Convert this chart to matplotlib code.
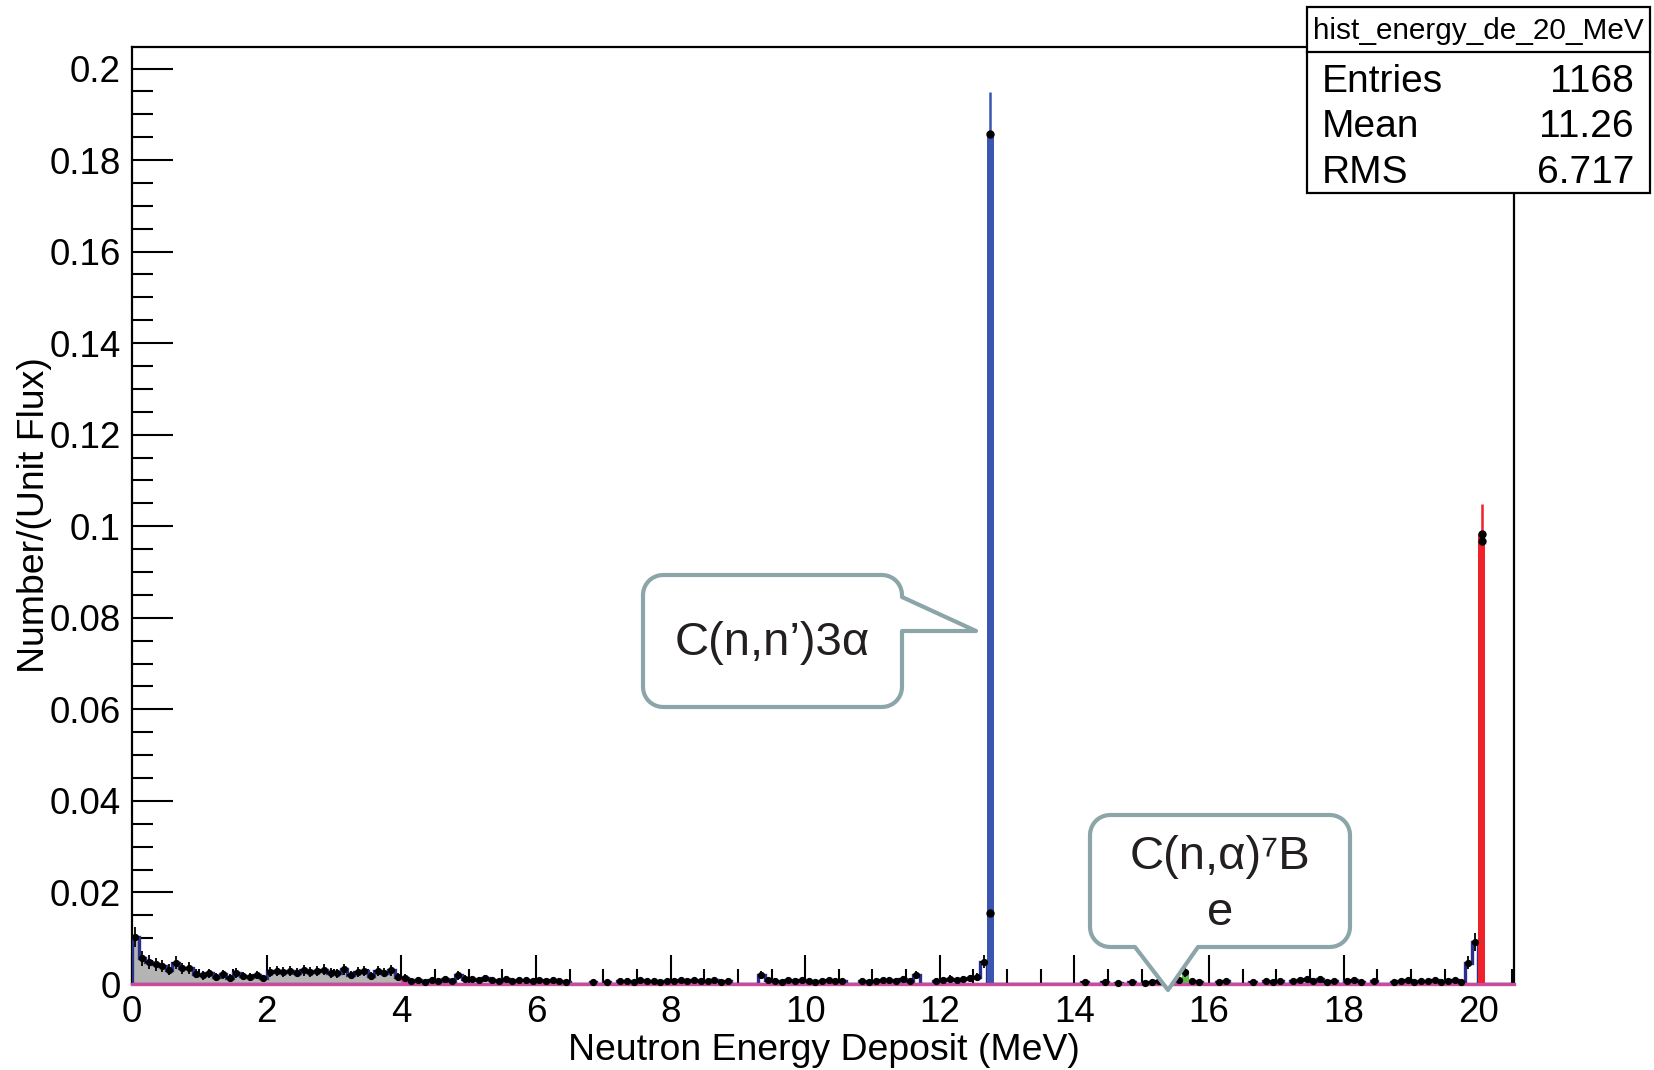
import numpy as np
import matplotlib.pyplot as plt
from matplotlib.path import Path
from matplotlib.patches import PathPatch, Rectangle
from matplotlib.lines import Line2D
from matplotlib.ticker import MultipleLocator, FuncFormatter

plt.rcParams['font.family'] = ['Liberation Sans', 'DejaVu Sans']

W, H = 1654, 1070

# histogram binning (MeV)
e_lo, bin_width, n_bins = 0.0, 0.1, 205
x_max, y_max = 20.53, 0.2047

# total deposit per 0.1 MeV bin, in units of 1e-3 per unit flux
total_mil = [
    10.3, 5.6, 4.8, 4.3, 4.0, 3.1, 4.6, 3.4, 3.5, 2.2,      # 0-1 MeV
    1.9, 2.3, 1.6, 2.1, 1.4, 2.4, 1.8, 1.5, 2.0, 1.3,
    2.6, 2.8, 2.7, 2.9, 2.5, 3.0, 2.6, 2.8, 3.1, 2.4,
    2.3, 3.2, 2.0, 2.6, 2.9, 1.8, 2.8, 2.5, 3.0, 1.5,
    1.4, 0.6, 0.9, 0.5, 0.8, 0.7, 1.0, 0.6, 1.9, 1.2,       # 4-5 MeV
    1.0, 0.9, 1.3, 0.8, 0.7, 1.1, 0.6, 0.9, 0.8, 0.7,
    0.8, 0.6, 0.9, 0.7, 0.5, 0.0, 0.0, 0.0, 0.4, 0.0,
    0.5, 0.0, 0.6, 0.7, 0.5, 0.8, 0.6, 0.7, 0.5, 0.6,
    0.7, 0.9, 0.6, 0.8, 0.7, 0.6, 0.8, 0.5, 0.7, 0.0,       # 8-9 MeV
    0.0, 0.0, 0.0, 2.0, 0.8, 0.7, 0.5, 0.9, 0.6, 0.8,
    0.7, 0.5, 0.6, 0.8, 0.7, 0.6, 0.0, 0.0, 0.7, 0.5,
    0.6, 0.8, 0.9, 0.7, 1.0, 0.6, 2.0, 0.0, 0.0, 0.7,
    0.9, 1.2, 0.8, 1.1, 1.3, 1.6, 4.9, 185.7, 0.0, 0.0,     # 12-13 MeV
    0.0, 0.0, 0.0, 0.0, 0.0, 0.0, 0.0, 0.0, 0.0, 0.0,
    0.0, 0.4, 0.0, 0.0, 0.5, 0.0, 0.3, 0.0, 0.4, 0.0,
    0.3, 0.5, 0.6, 0.4, 0.0, 0.8, 2.6, 0.6, 0.5, 0.0,
    0.0, 0.5, 0.6, 0.0, 0.0, 0.0, 0.5, 0.0, 0.7, 0.4,       # 16-17 MeV
    0.6, 0.0, 0.6, 0.9, 1.1, 0.7, 1.0, 0.5, 0.6, 0.0,
    0.7, 0.9, 0.5, 0.0, 0.6, 0.0, 0.0, 0.5, 0.6, 0.8,
    0.5, 0.7, 0.6, 0.9, 0.5, 0.6, 0.8, 0.5, 4.6, 9.2,
    98.2, 0.0, 0.0, 0.0, 0.0,                               # 20-20.5 MeV
]

# separate reaction channels (bin centre MeV, 1e-3 units)
c3a_e, c3a_mil = [12.75], [185.7]       # C(n,n')3alpha line
alpha_e, alpha_mil = [15.65], [2.6]     # C(n,alpha)7Be
elastic_e, elastic_mil = [20.05], [98.2]
inel_e, inel_mil = [4.05], [1.3]
# second histogram overlaid at the two lines
overlay_e, overlay_mil = [12.75, 20.05], [15.5, 96.7]

entry_weight = 4.45e-4  # weight per MC entry, for poisson errors
low_band_bins = 40      # gray (recoil) fill below 4 MeV

stats_rows = [("Entries", "1168"), ("Mean", "11.26"), ("RMS", "6.717")]
hist_name = "hist_energy_de_20_MeV"

NAVY = '#2b2f8c'
PEAK_BLUE = '#3b56b0'
RED = '#ee2228'
GREEN = '#5cba47'
PINK = '#cc4a9e'
GRAY = '#b4b4b4'
CALLOUT = '#8ca5a9'

edges = e_lo + bin_width * np.arange(n_bins + 1)
centers = 0.5 * (edges[:-1] + edges[1:])
total = np.array(total_mil) * 1e-3


def channel(e_list, v_list):
    out = np.zeros(n_bins)
    for e, v in zip(e_list, v_list):
        out[int((e - e_lo) / bin_width)] = v * 1e-3
    return out


c3a = channel(c3a_e, c3a_mil)
alpha = channel(alpha_e, alpha_mil)
elastic = channel(elastic_e, elastic_mil)
inel = channel(inel_e, inel_mil)
blue_steps = total - c3a - alpha - elastic

fig = plt.figure(figsize=(W / 100, H / 100), dpi=100)
ax = fig.add_axes([132 / W, 1 - 984 / H, (1514 - 132) / W, (984 - 47) / H])

ax.stairs(total[:low_band_bins], edges[:low_band_bins + 1], fill=True,
          color=GRAY, zorder=2)
ax.stairs(blue_steps, edges, color=NAVY, lw=2.4, zorder=3)
ax.stairs(c3a, edges, fill=True, color=PEAK_BLUE, zorder=3)
ax.stairs(elastic, edges, fill=True, color=RED, zorder=3)
ax.stairs(alpha, edges, fill=True, color=GREEN, zorder=3)
ax.stairs(inel, edges, fill=True, color=PINK, zorder=3)

# zero line of the empty channel
ax.axhline(0, color=PINK, lw=2.4, zorder=4, clip_on=False)

# error bars on the peaks in channel colours
for ch, col in ((c3a, PEAK_BLUE), (elastic, RED)):
    m = ch > 0
    ax.errorbar(centers[m], ch[m], yerr=np.sqrt(ch[m] * entry_weight),
                fmt='none', ecolor=col, elinewidth=1.8, capsize=0, zorder=5)

small = (total > 0) & (c3a == 0) & (elastic == 0)
ax.errorbar(centers[small], total[small],
            yerr=np.sqrt(total[small] * entry_weight), xerr=bin_width / 2,
            fmt='o', color='black', ms=4.2, elinewidth=1.3, capsize=0,
            zorder=6, clip_on=False)
big = (c3a > 0) | (elastic > 0)
ax.plot(centers[big], total[big], 'o', color='black', ms=5, zorder=6)
ax.plot(overlay_e, np.array(overlay_mil) * 1e-3, 'o', color='black', ms=5,
        zorder=6)

ax.set_xlim(0, x_max)
ax.set_ylim(0, y_max)
ax.xaxis.set_major_locator(MultipleLocator(2))
ax.xaxis.set_minor_locator(MultipleLocator(0.5))
ax.yaxis.set_major_locator(MultipleLocator(0.02))
ax.yaxis.set_minor_locator(MultipleLocator(0.005))
fmt = FuncFormatter(lambda v, p: f'{v:g}')
ax.xaxis.set_major_formatter(fmt)
ax.yaxis.set_major_formatter(fmt)
ax.tick_params(which='both', direction='in', width=1.5, labelsize=26.5,
               pad=8, top=False, right=False)
ax.tick_params(axis='y', which='major', length=29.5)
ax.tick_params(axis='y', which='minor', length=15)
ax.tick_params(axis='x', which='major', length=21)
ax.tick_params(axis='x', which='minor', length=11)
for s in ax.spines.values():
    s.set_linewidth(1.6)

fig.text(824 / W, 1 - 1051 / H, 'Neutron Energy Deposit (MeV)',
         ha='center', va='center', fontsize=26.9)
fig.text(35 / W, 1 - 515 / H, 'Number/(Unit Flux)', rotation=90,
         ha='center', va='center', fontsize=26.9)


def fx(x):
    return x / W


def fy(y):
    return 1 - y / H


def arc(cx, cy, r, a0, a1, n=10):
    t = np.radians(np.linspace(a0, a1, n))
    return [(cx + r * np.cos(t_), cy + r * np.sin(t_)) for t_ in t]


def callout(x0, y0, x1, y1, r, tip, right_tail=None, bottom_tail=None):
    """Rounded box in pixel coords (y down) with a pointer tail."""
    pts = [(x0 + r, y0), (x1 - r, y0)]
    pts += arc(x1 - r, y0 + r, r, -90, 0)
    if right_tail:
        a, b = right_tail
        pts += [(x1, a), tip, (x1, b)]
    pts += [(x1, y1 - r)]
    pts += arc(x1 - r, y1 - r, r, 0, 90)
    if bottom_tail:
        a, b = bottom_tail
        pts += [(b, y1), tip, (a, y1)]
    pts += [(x0 + r, y1)]
    pts += arc(x0 + r, y1 - r, r, 90, 180)
    pts += [(x0, y0 + r)]
    pts += arc(x0 + r, y0 + r, r, 180, 270)
    verts = [(fx(x), fy(y)) for x, y in pts]
    verts.append(verts[0])
    codes = [Path.MOVETO] + [Path.LINETO] * (len(verts) - 2) + [Path.CLOSEPOLY]
    p = PathPatch(Path(verts, codes), transform=fig.transFigure,
                  facecolor='white', edgecolor=CALLOUT, lw=3,
                  joinstyle='round', zorder=10)
    fig.patches.append(p)


callout(643, 575, 902, 707, 20, (976, 631), right_tail=(597, 631))
fig.text(fx(772), fy(643), 'C(n,n’)3α', ha='center', va='center',
         fontsize=34, color='#231f20', zorder=11)

callout(1090, 815, 1350, 947, 20, (1168, 990), bottom_tail=(1135, 1198))
fig.text(fx(1220), fy(885), 'C(n,α)⁷B\ne', ha='center', va='center',
         fontsize=34, color='#231f20', linespacing=1.35, zorder=11)

# stats box
bx0, bx1, by0, by1, sep = 1307, 1650, 7, 193, 52
fig.patches.append(Rectangle((fx(bx0), fy(by1)), (bx1 - bx0) / W,
                             (by1 - by0) / H, transform=fig.transFigure,
                             facecolor='white', edgecolor='black', lw=1.6,
                             zorder=10))
fig.lines.append(Line2D([fx(bx0), fx(bx1)], [fy(sep), fy(sep)],
                        transform=fig.transFigure, color='black', lw=1.6,
                        zorder=11))
fig.text(fx((bx0 + bx1) / 2), fy(31), hist_name, ha='center', va='center',
         fontsize=21.4, zorder=12)
for (name, val), yc in zip(stats_rows, [82, 127, 173]):
    fig.text(fx(1322), fy(yc), name, ha='left', va='center', fontsize=28,
             zorder=12)
    fig.text(fx(1634), fy(yc), val, ha='right', va='center', fontsize=28,
             zorder=12)

fig.savefig('out.png', dpi=100)
